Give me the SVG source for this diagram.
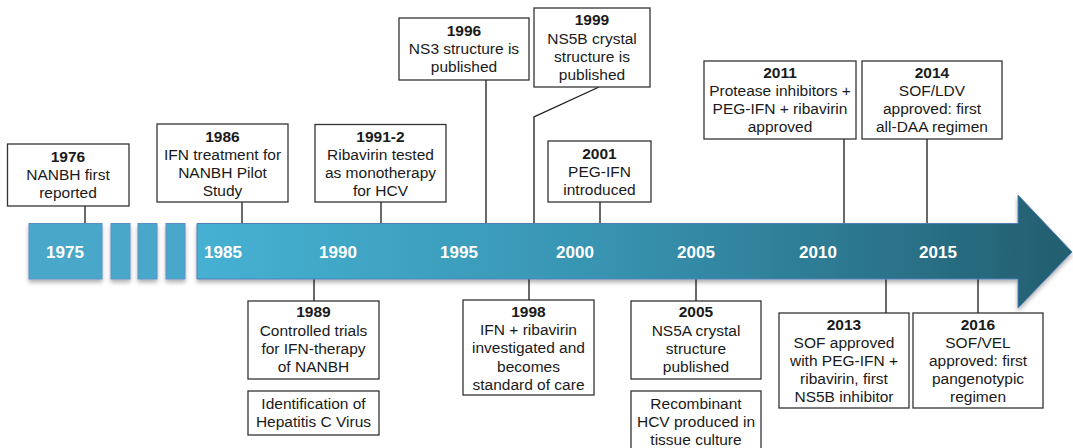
<svg xmlns="http://www.w3.org/2000/svg" width="1073" height="448" viewBox="0 0 1073 448">
<style>
.box{fill:#fff;stroke:#333;stroke-width:1.3}
.t{font-family:"Liberation Sans",Arial,sans-serif;font-size:15.5px;fill:#1a1a1a;text-anchor:middle}
.b{font-weight:bold}
.yr{font-family:"Liberation Sans",Arial,sans-serif;font-size:17px;font-weight:bold;fill:#fff;text-anchor:middle}
.ln{stroke:#1a1a1a;stroke-width:1.3;fill:none}
.blk{fill:#4aa7c9;stroke:#5b8ec6;stroke-width:1}
</style>
<defs>
<linearGradient id="g" x1="197" y1="0" x2="1073" y2="0" gradientUnits="userSpaceOnUse">
<stop offset="0" stop-color="#46b1d3"/>
<stop offset="0.45" stop-color="#3895b2"/>
<stop offset="0.75" stop-color="#2c7890"/>
<stop offset="1" stop-color="#235d6e"/>
</linearGradient>
<filter id="sh" x="-5%" y="-20%" width="110%" height="150%">
<feDropShadow dx="0" dy="3" stdDeviation="2" flood-color="#000" flood-opacity="0.3"/>
</filter>
</defs>
<g id="connectors">
<line class="ln" x1="85" y1="206" x2="85" y2="223"/>
<line class="ln" x1="242" y1="202" x2="242" y2="223"/>
<line class="ln" x1="381" y1="202" x2="381" y2="223"/>
<line class="ln" x1="486" y1="80" x2="486" y2="223"/>
<polyline class="ln" points="599,87 534,117 534,223"/>
<line class="ln" x1="600" y1="202" x2="600" y2="223"/>
<line class="ln" x1="844" y1="139" x2="844" y2="223"/>
<line class="ln" x1="927" y1="139" x2="927" y2="223"/>
<line class="ln" x1="314" y1="279" x2="314" y2="301"/>
<line class="ln" x1="529" y1="279" x2="529" y2="300"/>
<line class="ln" x1="696" y1="279" x2="696" y2="301"/>
<line class="ln" x1="886" y1="279" x2="886" y2="313"/>
<line class="ln" x1="978" y1="279" x2="978" y2="313"/>
</g>
<g id="timeline" filter="url(#sh)">
<rect class="blk" x="29" y="223.5" width="73" height="55.5"/>
<rect class="blk" x="111" y="223.5" width="19" height="55.5"/>
<rect class="blk" x="138" y="223.5" width="19" height="55.5"/>
<rect class="blk" x="166" y="223.5" width="19" height="55.5"/>
<polygon points="197,223.5 1018,223.5 1018,195 1072,252 1018,308 1018,279 197,279" fill="url(#g)" stroke="#4f7fb8" stroke-width="1"/>
</g>
<g id="years">
<text class="yr" x="65" y="258">1975</text>
<text class="yr" x="223" y="258">1985</text>
<text class="yr" x="338" y="258">1990</text>
<text class="yr" x="459" y="258">1995</text>
<text class="yr" x="575" y="258">2000</text>
<text class="yr" x="696" y="258">2005</text>
<text class="yr" x="818" y="258">2010</text>
<text class="yr" x="938" y="258">2015</text>
</g>
<g id="n1976">
<rect class="box" x="7.5" y="144" width="121.5" height="62"/>
<text class="t b" x="68" y="162">1976</text>
<text class="t" x="68" y="180">NANBH first</text>
<text class="t" x="68" y="198">reported</text>
</g>
<g id="n1986">
<rect class="box" x="157" y="124" width="131" height="78"/>
<text class="t b" x="222.5" y="142">1986</text>
<text class="t" x="222.5" y="160">IFN treatment for</text>
<text class="t" x="222.5" y="178">NANBH Pilot</text>
<text class="t" x="222.5" y="196">Study</text>
</g>
<g id="n1991">
<rect class="box" x="315" y="124.5" width="131" height="77.5"/>
<text class="t b" x="380.5" y="142">1991-2</text>
<text class="t" x="380.5" y="160">Ribavirin tested</text>
<text class="t" x="380.5" y="178">as monotherapy</text>
<text class="t" x="380.5" y="196">for HCV</text>
</g>
<g id="n1996">
<rect class="box" x="399" y="18" width="130" height="62"/>
<text class="t b" x="464" y="36">1996</text>
<text class="t" x="464" y="54">NS3 structure is</text>
<text class="t" x="464" y="72">published</text>
</g>
<g id="n1999">
<rect class="box" x="534" y="8" width="116" height="79"/>
<text class="t b" x="592" y="25">1999</text>
<text class="t" x="592" y="44">NS5B crystal</text>
<text class="t" x="592" y="62">structure is</text>
<text class="t" x="592" y="80">published</text>
</g>
<g id="n2001">
<rect class="box" x="548" y="141" width="103" height="61"/>
<text class="t b" x="599.5" y="159">2001</text>
<text class="t" x="599.5" y="177">PEG-IFN</text>
<text class="t" x="599.5" y="195">introduced</text>
</g>
<g id="n2011">
<rect class="box" x="704" y="61" width="152" height="78"/>
<text class="t b" x="780" y="78">2011</text>
<text class="t" x="780" y="96">Protease inhibitors +</text>
<text class="t" x="780" y="114">PEG-IFN + ribavirin</text>
<text class="t" x="780" y="132">approved</text>
</g>
<g id="n2014">
<rect class="box" x="862" y="61" width="140" height="78"/>
<text class="t b" x="932" y="78">2014</text>
<text class="t" x="932" y="96">SOF/LDV</text>
<text class="t" x="932" y="114">approved: first</text>
<text class="t" x="932" y="132">all-DAA regimen</text>
</g>
<g id="n1989">
<rect class="box" x="248" y="301" width="131" height="78"/>
<text class="t b" x="313.5" y="317">1989</text>
<text class="t" x="313.5" y="336">Controlled trials</text>
<text class="t" x="313.5" y="354">for IFN-therapy</text>
<text class="t" x="313.5" y="372">of NANBH</text>
</g>
<g id="nHCV">
<rect class="box" x="248" y="391" width="131" height="44"/>
<text class="t" x="313.5" y="409">Identification of</text>
<text class="t" x="313.5" y="427">Hepatitis C Virus</text>
</g>
<g id="n1998">
<rect class="box" x="463" y="300" width="131" height="95"/>
<text class="t b" x="528.5" y="317">1998</text>
<text class="t" x="528.5" y="335">IFN + ribavirin</text>
<text class="t" x="528.5" y="353">investigated and</text>
<text class="t" x="528.5" y="372">becomes</text>
<text class="t" x="528.5" y="390">standard of care</text>
</g>
<g id="n2005">
<rect class="box" x="631" y="301" width="130" height="78"/>
<text class="t b" x="696" y="317">2005</text>
<text class="t" x="696" y="336">NS5A crystal</text>
<text class="t" x="696" y="354">structure</text>
<text class="t" x="696" y="372">published</text>
</g>
<g id="nRecomb">
<rect class="box" x="631" y="391" width="130" height="62"/>
<text class="t" x="696" y="409">Recombinant</text>
<text class="t" x="696" y="427">HCV produced in</text>
<text class="t" x="696" y="445">tissue culture</text>
</g>
<g id="n2013">
<rect class="box" x="779" y="313" width="130" height="95"/>
<text class="t b" x="844" y="330">2013</text>
<text class="t" x="844" y="348">SOF approved</text>
<text class="t" x="844" y="366">with PEG-IFN +</text>
<text class="t" x="844" y="384">ribavirin, first</text>
<text class="t" x="844" y="402">NS5B inhibitor</text>
</g>
<g id="n2016">
<rect class="box" x="913" y="313" width="130" height="95"/>
<text class="t b" x="978" y="330">2016</text>
<text class="t" x="978" y="348">SOF/VEL</text>
<text class="t" x="978" y="366">approved: first</text>
<text class="t" x="978" y="384">pangenotypic</text>
<text class="t" x="978" y="402">regimen</text>
</g>
</svg>
